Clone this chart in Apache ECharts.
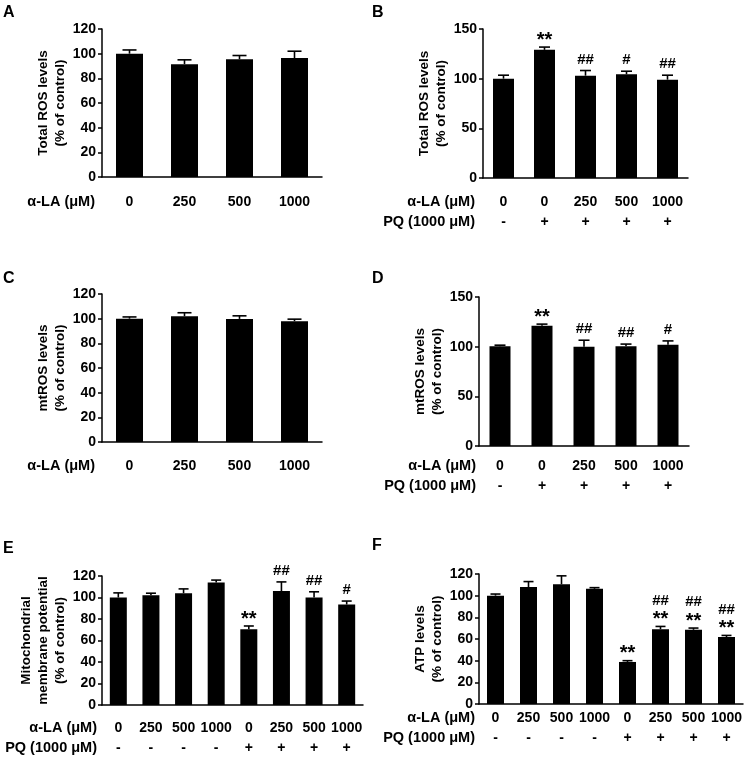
<!DOCTYPE html>
<html><head><meta charset="utf-8">
<script src="https://cdn.jsdelivr.net/npm/echarts@6.0.0/dist/echarts.min.js"></script>
<style>html,body{margin:0;padding:0;background:#fff}#c{width:746px;height:761px}</style>
</head><body><div id="c"></div>
<script>
const FONT = "'Liberation Sans', Arial, sans-serif";

// Panel A: Total ROS, α-LA only
const alaA = ['0', '250', '500', '1000'];
const meanA = [100, 91.5, 95.5, 96.5];
const semA = [3, 3.5, 3, 5.5];
const sigA = ['', '', '', ''];

// Panel B: Total ROS with PQ
const alaB = ['0', '0', '250', '500', '1000'];
const pqB = ['-', '+', '+', '+', '+'];
const meanB = [100, 129, 103, 104.5, 99];
const semB = [3.5, 2.8, 5.2, 3, 4.5];
const sigB = ['', '**', '##', '#', '##'];

// Panel C: mtROS, α-LA only
const alaC = ['0', '250', '500', '1000'];
const meanC = [100, 102, 99.8, 98];
const semC = [1.4, 2.8, 2.5, 1.6];
const sigC = ['', '', '', ''];

// Panel D: mtROS with PQ
const alaD = ['0', '0', '250', '500', '1000'];
const pqD = ['-', '+', '+', '+', '+'];
const meanD = [100.5, 121, 100, 100.3, 102];
const semD = [1, 1.7, 6.5, 2.3, 3.8];
const sigD = ['', '**', '##', '##', '#'];

// Panel E: Mitochondrial membrane potential
const alaE = ['0', '250', '500', '1000', '0', '250', '500', '1000'];
const pqE = ['-', '-', '-', '-', '+', '+', '+', '+'];
const meanE = [100, 102, 104, 114, 70.5, 106, 100, 93.5];
const semE = [4.3, 2, 4, 2.2, 3, 8.5, 5.3, 3.2];
const sigE = ['', '', '', '', '**', '##', '##', '#'];

// Panel F: ATP levels
const alaF = ['0', '250', '500', '1000', '0', '250', '500', '1000'];
const pqF = ['-', '-', '-', '-', '+', '+', '+', '+'];
const meanF = [100, 108, 110.5, 106.3, 38.8, 69, 68.5, 61.8];
const semF = [1.5, 5, 7.8, 1.1, 1.2, 2.6, 1.6, 1.5];
const sigF = ['', '', '', '', '**', '##\n**', '##\n**', '##\n**'];

const yTicksA = {max: 120, interval: 20};
const yTicksB = {max: 150, interval: 50};

const panels = [
  {letter: 'A', lx: 3, ly: 5, ala: alaA, pq: null, mean: meanA, sem: semA, sig: sigA, y: yTicksA,
   name: 'Total ROS levels\n(% of control)', nameGap: 30,
   grid: {left: 102, top: 29, width: 220, height: 148}, margin: 15, barW: 27, capW: 14, rowX: 95},
  {letter: 'B', lx: 372, ly: 5, ala: alaB, pq: pqB, mean: meanB, sem: semB, sig: sigB, y: yTicksB,
   name: 'Total ROS levels\n(% of control)', nameGap: 33,
   grid: {left: 483, top: 29, width: 205, height: 149}, margin: 14, barW: 21, capW: 11, rowX: 475},
  {letter: 'C', lx: 3, ly: 271, ala: alaC, pq: null, mean: meanC, sem: semC, sig: sigC, y: yTicksA,
   name: 'mtROS levels\n(% of control)', nameGap: 30,
   grid: {left: 102, top: 294, width: 220, height: 148}, margin: 14, barW: 27, capW: 14, rowX: 95},
  {letter: 'D', lx: 372, ly: 271, ala: alaD, pq: pqD, mean: meanD, sem: semD, sig: sigD, y: yTicksB,
   name: 'mtROS levels\n(% of control)', nameGap: 27,
   grid: {left: 479, top: 297, width: 210, height: 149}, margin: 10, barW: 21, capW: 11, rowX: 476},
  {letter: 'E', lx: 3, ly: 541, ala: alaE, pq: pqE, mean: meanE, sem: semE, sig: sigE, y: yTicksA,
   name: 'Mitochondrial\nmembrane potential\n(% of control)', nameGap: 29,
   grid: {left: 102, top: 576, width: 261, height: 129}, margin: 13, barW: 17, capW: 10, rowX: 97},
  {letter: 'F', lx: 372, ly: 538, ala: alaF, pq: pqF, mean: meanF, sem: semF, sig: sigF, y: yTicksA,
   name: 'ATP levels\n(% of control)', nameGap: 29,
   grid: {left: 479, top: 574, width: 264, height: 130}, margin: 4, barW: 17, capW: 10, rowX: 475}
];

const grids = [], xAxes = [], yAxes = [], series = [], graphics = [];

panels.forEach((p, k) => {
  grids.push(Object.assign({containLabel: false}, p.grid));
  const cats = p.ala.map((a, i) => p.pq ? a + '\n' + p.pq[i] : a);
  xAxes.push({
    type: 'category', gridIndex: k, data: cats,
    axisLine: {lineStyle: {color: '#000', width: 1.5}},
    axisTick: {alignWithLabel: true, length: 4, lineStyle: {color: '#000', width: 1.5}},
    axisLabel: {color: '#000', fontFamily: FONT, fontWeight: 'bold', fontSize: 14, lineHeight: 20,
                margin: p.margin, interval: 0},
    splitLine: {show: false}
  });
  yAxes.push({
    type: 'value', gridIndex: k, min: 0, max: p.y.max, interval: p.y.interval,
    name: p.name, nameLocation: 'middle', nameRotate: 90, nameGap: p.nameGap,
    nameTextStyle: {color: '#000', fontFamily: FONT, fontWeight: 'bold', fontSize: 13.5, lineHeight: 17},
    axisLine: {show: true, lineStyle: {color: '#000', width: 1.5}},
    axisTick: {show: true, length: 4, lineStyle: {color: '#000', width: 1.5}},
    axisLabel: {color: '#000', fontFamily: FONT, fontWeight: 'bold', fontSize: 14, margin: 6},
    splitLine: {show: false}
  });
  series.push({
    type: 'bar', xAxisIndex: k, yAxisIndex: k, data: p.mean, barWidth: p.barW,
    itemStyle: {color: '#000'}, silent: true, z: 2
  });
  const sig = p.sig, capW = p.capW;
  series.push({
    type: 'custom', xAxisIndex: k, yAxisIndex: k, z: 3, silent: true,
    data: p.mean.map((m, i) => [i, m, p.sem[i]]),
    renderItem: function (params, api) {
      const i = api.value(0), m = api.value(1), s = api.value(2);
      const p0 = api.coord([i, m]);
      const p1 = api.coord([i, m + s]);
      const children = [
        {type: 'line', shape: {x1: p0[0], y1: p0[1], x2: p1[0], y2: p1[1]},
         style: {stroke: '#000', lineWidth: 1.6}},
        {type: 'line', shape: {x1: p1[0] - capW / 2, y1: p1[1], x2: p1[0] + capW / 2, y2: p1[1]},
         style: {stroke: '#000', lineWidth: 1.6}}
      ];
      const lab = sig[params.dataIndex];
      if (lab) {
        const lines = lab.split('\n').reverse();
        lines.forEach((t, j) => {
          const cy = p1[1] - 11 - j * 15;
          const star = t.indexOf('*') >= 0;
          children.push({
            type: 'text', x: p1[0], y: star ? cy + 4 : cy,
            style: {text: t, textAlign: 'center', textVerticalAlign: 'middle',
                    font: 'bold ' + (star ? 20 : 15) + 'px ' + FONT, fill: '#000'}
          });
        });
      }
      return {type: 'group', children: children};
    }
  });
  const rowY = p.grid.top + p.grid.height + p.margin + 10;
  graphics.push({type: 'text', right: 746 - p.rowX, top: rowY - 8,
    style: {text: 'α-LA (μM)', font: 'bold 14.5px ' + FONT, fill: '#000'}});
  if (p.pq) {
    graphics.push({type: 'text', right: 746 - p.rowX, top: rowY + 12,
      style: {text: 'PQ (1000 μM)', font: 'bold 14.5px ' + FONT, fill: '#000'}});
  }
  graphics.push({type: 'text', left: p.lx, top: p.ly,
    style: {text: p.letter, font: 'bold 16px ' + FONT, fill: '#000'}});
});

const chart = echarts.init(document.getElementById('c'), null, {renderer: 'canvas'});
chart.setOption({
  animation: false,
  backgroundColor: '#fff',
  grid: grids, xAxis: xAxes, yAxis: yAxes, series: series, graphic: graphics
});
</script>
</body></html>
